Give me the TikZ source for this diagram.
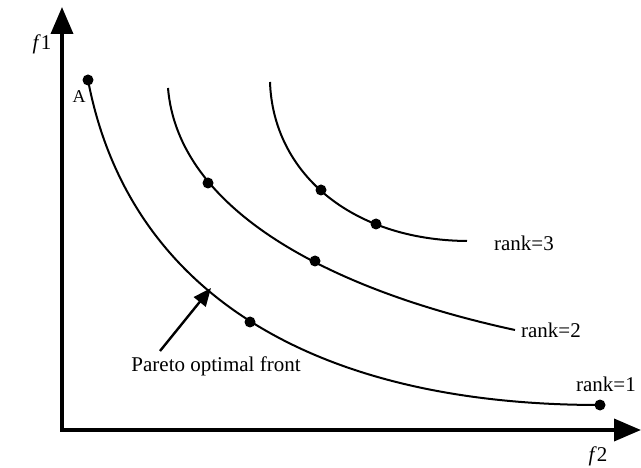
\documentclass[tikz,border=0pt]{standalone}
\usepackage{fontspec}
\setmainfont{Liberation Serif}
\usetikzlibrary{arrows.meta}
\begin{document}
\begin{tikzpicture}[x=1pt,y=-1pt,
  axis/.style={line width=3.6pt,-{Triangle[length=27pt,width=22pt]}},
  front/.style={line width=2pt},
  dot/.style={circle,fill=black,inner sep=0pt,minimum size=11pt},
  lbl/.style={font=\fontsize{21}{23}\selectfont,inner sep=0pt},
  pointer/.style={line width=2.4pt,-{Triangle[length=18pt,width=15pt]}}]
\useasboundingbox (0,0) rectangle (641,468);
\coordinate (O) at (62,430);
\coordinate (ytip) at (62,7);
\coordinate (xtip) at (641,430);
\draw[axis] ([yshift=1.8pt]O) -- (O |- ytip);
\draw[axis] ([xshift=-1.8pt]O) -- (xtip);
\node[lbl] (f1) at (42,44) {\textit{f}1};
\node[lbl] (f2) at (598,456) {\textit{f}2};
% rank 1
\coordinate (r1s) at (88,80);
\coordinate (r1e) at (600,405);
\draw[front] (r1s) .. controls (128,290) and (310,405) .. (r1e);
\node[dot] (A) at (r1s) {};
\node[lbl] (Alab) at (79,97) {\fontsize{18}{20}\selectfont A};
\node[dot] (p11) at (250,322) {};
\node[dot] (p12) at (r1e) {};
\node[lbl] (rank1) at (606,384) {rank=1};
% rank 2
\coordinate (r2s) at (168,88);
\coordinate (r2e) at (515,330);
\draw[front] (r2s) .. controls (178,210) and (330,290) .. (r2e);
\node[dot] (p21) at (208,183) {};
\node[dot] (p22) at (315,261) {};
\node[lbl] (rank2) at (551,330) {rank=2};
% rank 3
\coordinate (r3s) at (270,82);
\coordinate (r3e) at (467,241);
\draw[front] (r3s) .. controls (273,172) and (350,240) .. (r3e);
\node[dot] (p31) at (321,190) {};
\node[dot] (p32) at (376,224) {};
\node[lbl] (rank3) at (524,243) {rank=3};
% pointer
\node[lbl] (pareto) at (216,366) {Pareto optimal front};
\coordinate (ptip) at (211,288);
\coordinate (ptail) at (160,351);
\draw[pointer] (ptail) -- (ptip);
\end{tikzpicture}
\end{document}
